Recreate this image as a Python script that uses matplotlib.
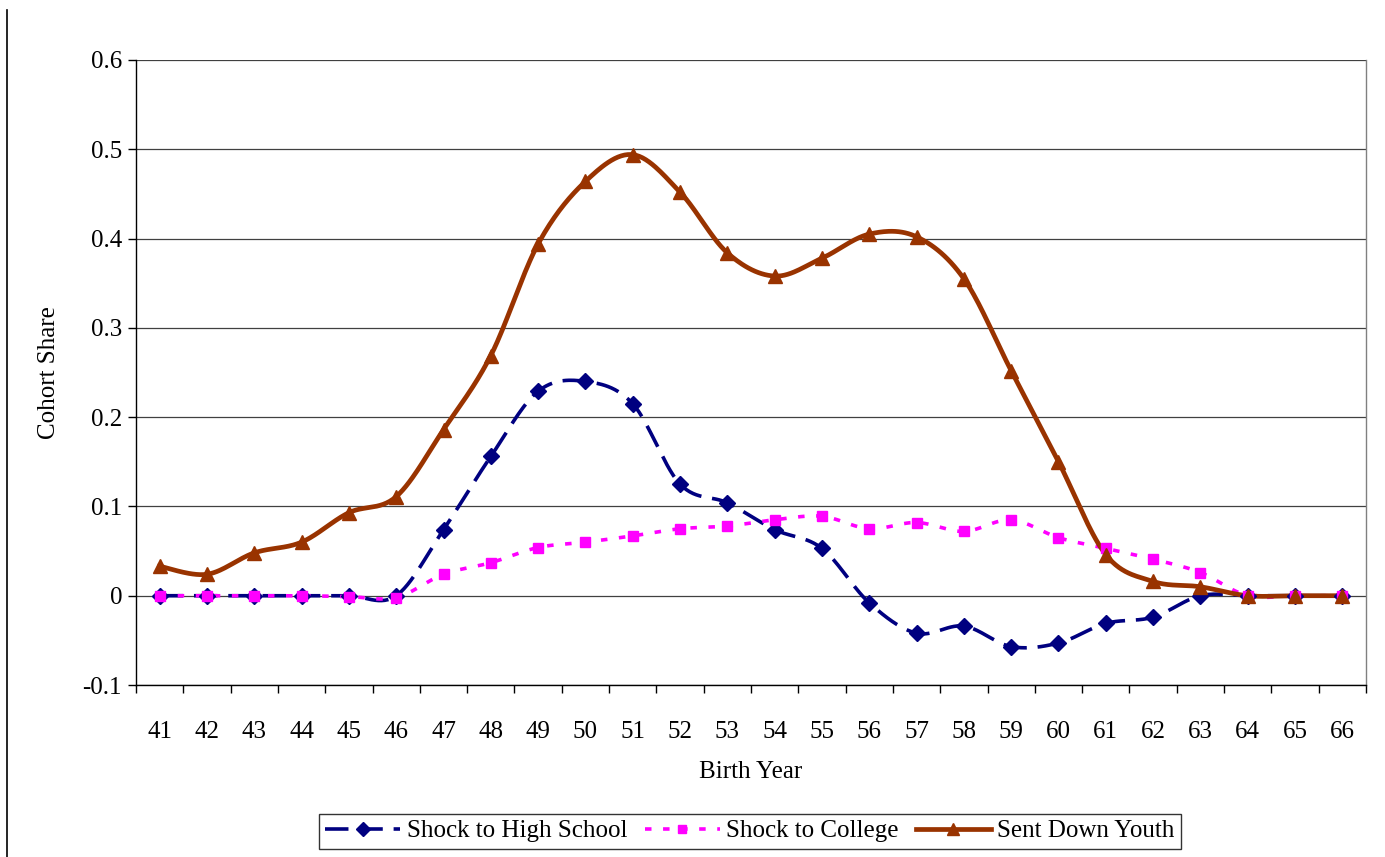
import numpy as np
import matplotlib
matplotlib.use("Agg")
import matplotlib.pyplot as plt
from matplotlib.lines import Line2D

plt.rcParams['font.family'] = ['Liberation Serif', 'DejaVu Serif']

FS = 18

years = [str(y) for y in range(41, 67)]

high_school = [0.0, 0.0, 0.0, 0.0, 0.0, 0.0, 0.074, 0.156, 0.229, 0.240,
               0.215, 0.125, 0.104, 0.074, 0.053, -0.008, -0.042, -0.034,
               -0.057, -0.053, -0.031, -0.024, 0.0, 0.0, 0.0, 0.0]
college = [0.0, 0.0, 0.0, 0.0, -0.001, -0.002, 0.024, 0.037, 0.054, 0.060,
           0.067, 0.075, 0.078, 0.085, 0.089, 0.075, 0.082, 0.072, 0.085,
           0.065, 0.053, 0.041, 0.026, 0.0, 0.0, 0.0]
sent_down = [0.033, 0.024, 0.048, 0.060, 0.093, 0.111, 0.186, 0.269, 0.394,
             0.464, 0.494, 0.452, 0.384, 0.358, 0.378, 0.405, 0.402, 0.355,
             0.252, 0.150, 0.046, 0.016, 0.010, 0.0, 0.0, 0.0]

NAVY = '#000080'
MAGENTA = '#FF00FF'
RUST = '#993300'


def smooth(x, y, n=30):
    """Excel style smoothed line: cubic bezier through each point,
    control points from neighbours (catmull-rom, tension 1/6)."""
    x = np.asarray(x, float)
    y = np.asarray(y, float)
    px = np.concatenate([[x[0]], x, [x[-1]]])
    py = np.concatenate([[y[0]], y, [y[-1]]])
    t = np.linspace(0, 1, n)
    xs, ys = [], []
    for i in range(1, len(px) - 2):
        p0 = np.array([px[i], py[i]])
        p3 = np.array([px[i + 1], py[i + 1]])
        c1 = p0 + (np.array([px[i + 1], py[i + 1]]) - np.array([px[i - 1], py[i - 1]])) / 6
        c2 = p3 - (np.array([px[i + 2], py[i + 2]]) - np.array([px[i], py[i]])) / 6
        b = ((1 - t) ** 3)[:, None] * p0 + (3 * (1 - t) ** 2 * t)[:, None] * c1 \
            + (3 * (1 - t) * t ** 2)[:, None] * c2 + (t ** 3)[:, None] * p3
        xs.append(b[:, 0])
        ys.append(b[:, 1])
    return np.concatenate(xs), np.concatenate(ys)


fig = plt.figure(figsize=(13.85, 8.57), dpi=100)
ax = fig.add_axes([136 / 1385, 1 - 685 / 857, 1230 / 1385, 625 / 857])

xi = np.arange(len(years))

series = [
    (high_school, NAVY, (0, (6.5, 3)), 2.6, 'D', 8, 'Shock to High School'),
    (college, MAGENTA, (0, (1.8, 3.2)), 2.6, 's', 7.5, 'Shock to College'),
    (sent_down, RUST, '-', 3.4, '^', 10, 'Sent Down Youth'),
]
handles = []
for vals, c, ls, lw, mk, ms, lab in series:
    sx, sy = smooth(xi, vals)
    ax.plot(sx, sy, color=c, linestyle=ls, linewidth=lw, zorder=3)
    ax.plot(xi, vals, linestyle='none', marker=mk, color=c, markersize=ms,
            zorder=4)
    handles.append(Line2D([], [], color=c, linestyle=ls, linewidth=lw,
                          marker=mk, markersize=ms * 0.85, label=lab))

ax.set_xlim(-0.5, len(years) - 0.5)
ax.set_ylim(-0.1, 0.6)
ax.set_yticks(np.arange(-0.1, 0.61, 0.1))
ax.set_yticklabels(['-0.1', '0', '0.1', '0.2', '0.3', '0.4', '0.5', '0.6'])
ax.set_xticks(xi)
ax.set_xticklabels(years)
ax.set_xticks(np.arange(-0.5, len(years), 1), minor=True)
ax.tick_params(axis='x', which='major', length=0, pad=26, labelsize=FS)
ax.tick_params(axis='x', which='minor', length=6, width=1, color='black')
ax.tick_params(axis='y', length=6, width=1, pad=4, labelsize=FS)
ax.yaxis.grid(True, color='#404040', linewidth=0.9)
ax.set_axisbelow(True)
for s in ['left', 'bottom']:
    ax.spines[s].set_color('black')
    ax.spines[s].set_linewidth(1)
ax.spines['top'].set_visible(False)
ax.spines['right'].set_color('#808080')
ax.spines['right'].set_linewidth(1)

ax.set_ylabel('Cohort Share', fontsize=FS, labelpad=16)
ax.set_xlabel('Birth Year', fontsize=FS, labelpad=13)

leg = fig.legend(handles=handles, loc='center', ncol=3, fontsize=FS,
                 bbox_to_anchor=(750 / 1385, 1 - 831 / 857), numpoints=1,
                 handlelength=3.0, handletextpad=0.25, columnspacing=0.7,
                 frameon=True, fancybox=False, borderpad=0.25)
leg.get_frame().set_edgecolor('black')
leg.get_frame().set_linewidth(1)

fig.add_artist(Line2D([7 / 1385, 7 / 1385], [0, 1 - 10 / 857],
                      color='black', linewidth=1.2))

fig.savefig('out.png', dpi=100)
